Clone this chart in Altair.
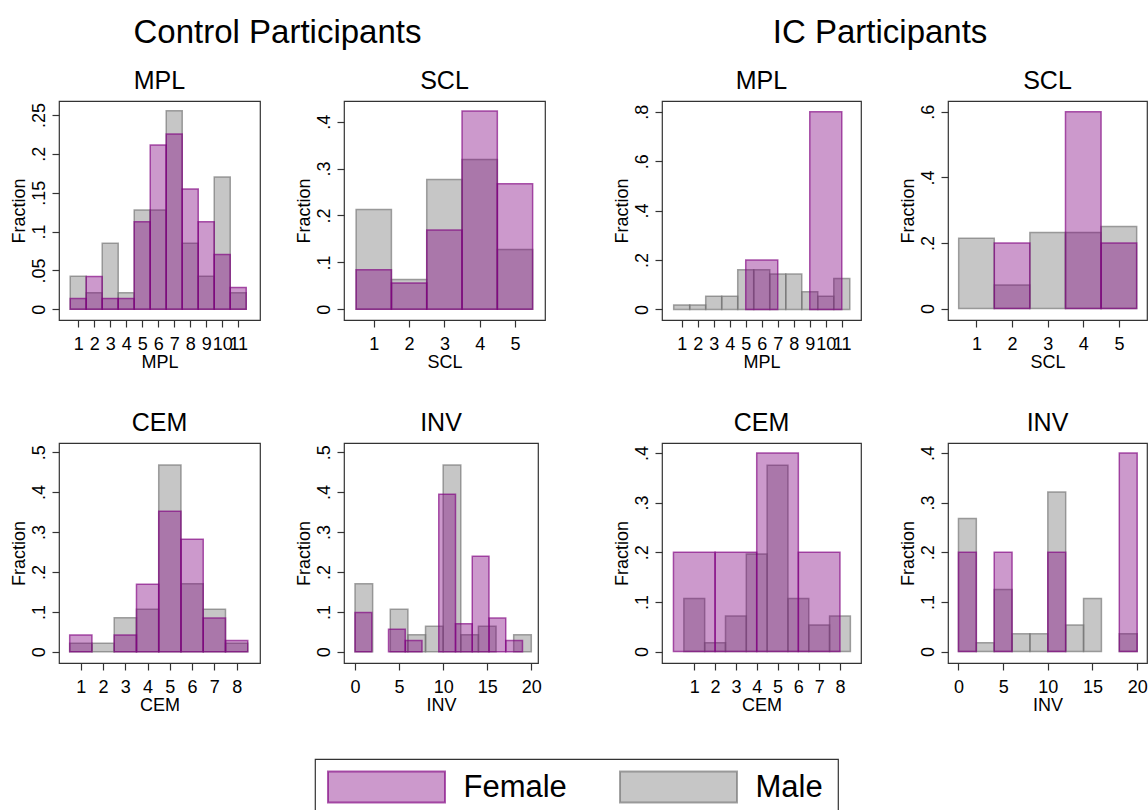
import altair as alt
import pandas as pd

FONT = "Liberation Sans"

sexes = ["Female", "Male"]
sex_colors = ["#800080", "#717171"]

# ---------------- Control participants ----------------
ctrl_mpl_edges = [0.5, 1.5, 2.5, 3.5, 4.5, 5.5, 6.5, 7.5, 8.5, 9.5, 10.5]
ctrl_mpl_female = [0.0141, 0.0423, 0.0141, 0.0141, 0.1127, 0.2113, 0.2254, 0.1549, 0.1127, 0.0704, 0.0282]
ctrl_mpl_male = [0.0426, 0.0213, 0.0851, 0.0213, 0.1277, 0.1277, 0.2553, 0.0851, 0.0426, 0.1702, 0.0213]

ctrl_scl_edges = [0.5, 1.5, 2.5, 3.5, 4.5]
ctrl_scl_female = [0.0845, 0.0563, 0.1690, 0.4225, 0.2676]
ctrl_scl_male = [0.2128, 0.0638, 0.2766, 0.3191, 0.1277]

ctrl_cem_edges = [0.5, 1.5, 2.5, 3.5, 4.5, 5.5, 6.5, 7.5]
ctrl_cem_female = [0.0423, 0.0, 0.0423, 0.1690, 0.3521, 0.2817, 0.0845, 0.0282]
ctrl_cem_male = [0.0213, 0.0213, 0.0851, 0.1064, 0.4681, 0.1702, 0.1064, 0.0213]

ctrl_inv_female_edges = [0.0, 1.9, 3.8, 5.7, 7.6, 9.5, 11.4, 13.3, 15.2, 17.1]
ctrl_inv_female = [0.0986, 0.0, 0.0563, 0.0282, 0.0, 0.3944, 0.0704, 0.2394, 0.0845, 0.0282]
ctrl_inv_male_edges = [0, 2, 4, 6, 8, 10, 12, 14, 16, 18]
ctrl_inv_male = [0.1702, 0.0, 0.1064, 0.0426, 0.0638, 0.4681, 0.0426, 0.0638, 0.0, 0.0426]

# ---------------- IC participants ----------------
ic_mpl_male_edges = [0.5, 1.5, 2.5, 3.5, 4.5, 5.5, 6.5, 7.5, 8.5, 9.5, 10.5]
ic_mpl_male = [0.0179, 0.0179, 0.0536, 0.0536, 0.1607, 0.1607, 0.1429, 0.1429, 0.0714, 0.0536, 0.1250]
ic_mpl_female_edges = [5, 7, 9]
ic_mpl_female = [0.2, 0.0, 0.8]

ic_scl_edges = [0.5, 1.5, 2.5, 3.5, 4.5]
ic_scl_female = [0.0, 0.2, 0.0, 0.6, 0.2]
ic_scl_male = [0.2143, 0.0714, 0.2321, 0.2321, 0.2500]

ic_cem_male_edges = [0.5, 1.5, 2.5, 3.5, 4.5, 5.5, 6.5, 7.5]
ic_cem_male = [0.1071, 0.0179, 0.0714, 0.1964, 0.3750, 0.1071, 0.0536, 0.0714]
ic_cem_female_edges = [0, 2, 4, 6]
ic_cem_female = [0.2, 0.2, 0.4, 0.2]

ic_inv_edges = [0, 2, 4, 6, 8, 10, 12, 14, 16, 18]
ic_inv_female = [0.2, 0.0, 0.2, 0.0, 0.0, 0.2, 0.0, 0.0, 0.0, 0.4]
ic_inv_male = [0.2679, 0.0179, 0.1250, 0.0357, 0.0357, 0.3214, 0.0536, 0.1071, 0.0, 0.0357]

legend_labels = ["Female", "Male"]

YEXT = 52  # left extent of y axis (ticks + labels + title), used for spacing


def series(edges, width, values, sex):
    return [{"x0": e, "x1": e + width, "frac": v, "sex": sex}
            for e, v in zip(edges, values) if v > 0]


YLAB = "datum.value == 0 ? '0' : replace(format(datum.value, '.2~f'), '0.', '.')"


def panel(title, xlabel, rows, xdomain, xticks, ydomain, yticks, w, h):
    df = pd.DataFrame(rows)
    return alt.Chart(df).mark_rect(
        fillOpacity=0.4, strokeOpacity=0.65, strokeWidth=1.5
    ).encode(
        x=alt.X("x0:Q", scale=alt.Scale(domain=xdomain, nice=False, zero=False),
                axis=alt.Axis(values=xticks, title=xlabel, format="d")),
        x2="x1:Q",
        y=alt.Y("frac:Q", scale=alt.Scale(domain=ydomain, nice=False, zero=False),
                axis=alt.Axis(values=yticks, title="Fraction", labelExpr=YLAB,
                              labelAngle=270)),
        y2=alt.datum(0),
        fill=alt.Fill("sex:N", scale=alt.Scale(domain=sexes, range=sex_colors), legend=None),
        stroke=alt.Stroke("sex:N", scale=alt.Scale(domain=sexes, range=sex_colors), legend=None),
    ).properties(
        width=w, height=h,
        title=alt.TitleParams(title, fontSize=25, font=FONT, fontWeight="normal",
                              color="black", offset=7),
    )


p1 = panel("MPL", "MPL",
           series(ctrl_mpl_edges, 1, ctrl_mpl_male, "Male") + series(ctrl_mpl_edges, 1, ctrl_mpl_female, "Female"),
           [-0.2, 12.36], list(range(1, 12)), [-0.0137, 0.268], [0, 0.05, 0.1, 0.15, 0.2, 0.25], 201, 219)
p2 = panel("SCL", "SCL",
           series(ctrl_scl_edges, 1, ctrl_scl_male, "Male") + series(ctrl_scl_edges, 1, ctrl_scl_female, "Female"),
           [0.157, 5.85], [1, 2, 3, 4, 5], [-0.0227, 0.444], [0, 0.1, 0.2, 0.3, 0.4], 201, 219)
p5 = panel("CEM", "CEM",
           series(ctrl_cem_edges, 1, ctrl_cem_male, "Male") + series(ctrl_cem_edges, 1, ctrl_cem_female, "Female"),
           [0.02, 9.05], list(range(1, 9)), [-0.028, 0.523], [0, 0.1, 0.2, 0.3, 0.4, 0.5], 201, 220)
p6 = panel("INV", "INV",
           series(ctrl_inv_male_edges, 2, ctrl_inv_male, "Male") + series(ctrl_inv_female_edges, 1.9, ctrl_inv_female, "Female"),
           [-1.25, 20.76], [0, 5, 10, 15, 20], [-0.028, 0.523], [0, 0.1, 0.2, 0.3, 0.4, 0.5], 194, 220)

p3 = panel("MPL", "MPL",
           series(ic_mpl_male_edges, 1, ic_mpl_male, "Male") + series(ic_mpl_female_edges, 2, ic_mpl_female, "Female"),
           [-0.23, 12.2], list(range(1, 12)), [-0.043, 0.844], [0, 0.2, 0.4, 0.6, 0.8], 199, 219)
p4 = panel("SCL", "SCL",
           series(ic_scl_edges, 1, ic_scl_male, "Male") + series(ic_scl_edges, 1, ic_scl_female, "Female"),
           [0.2, 5.79], [1, 2, 3, 4, 5], [-0.035, 0.633], [0, 0.2, 0.4, 0.6], 199, 219)
p7 = panel("CEM", "CEM",
           series(ic_cem_male_edges, 1, ic_cem_male, "Male") + series(ic_cem_female_edges, 2, ic_cem_female, "Female"),
           [-0.55, 9.01], list(range(1, 9)), [-0.023, 0.42], [0, 0.1, 0.2, 0.3, 0.4], 199, 220)
p8 = panel("INV", "INV",
           series(ic_inv_edges, 2, ic_inv_male, "Male") + series(ic_inv_edges, 2, ic_inv_female, "Female"),
           [-1.17, 21.1], [0, 5, 10, 15, 20], [-0.023, 0.42], [0, 0.1, 0.2, 0.3, 0.4], 199, 220)


def group_title(text):
    return alt.TitleParams(text, fontSize=33, font=FONT, fontWeight="normal",
                           color="black", anchor="middle", offset=18)


groupA = alt.vconcat(
    alt.hconcat(p1, p2, spacing=85 - YEXT),
    alt.hconcat(p5, p6, spacing=85 - YEXT),
    spacing=38, title=group_title("Control Participants"),
)
groupB = alt.vconcat(
    alt.hconcat(p3, p4, spacing=88 - YEXT),
    alt.hconcat(p7, p8, spacing=88 - YEXT),
    spacing=38, title=group_title("IC Participants"),
)
top = alt.hconcat(groupA, groupB, spacing=118 - YEXT)

# ---------------- legend ----------------
SWATCH = "M-1,-0.265L1,-0.265L1,0.265L-1,0.265Z"
leg_df = pd.DataFrame({"sex": legend_labels})
leg_x = alt.X("sex:N", scale=alt.Scale(type="point", domain=legend_labels, padding=0.3955, align=0.3095),
              axis=None)
leg_sw = alt.Chart(leg_df).mark_point(
    shape=SWATCH, size=13689, filled=True, fillOpacity=0.4, strokeOpacity=0.65, strokeWidth=2, opacity=1
).encode(
    x=leg_x, y=alt.value(28),
    fill=alt.Fill("sex:N", scale=alt.Scale(domain=sexes, range=sex_colors), legend=None),
    stroke=alt.Stroke("sex:N", scale=alt.Scale(domain=sexes, range=sex_colors), legend=None),
)
leg_tx = alt.Chart(leg_df).mark_text(
    align="left", baseline="middle", dx=77, fontSize=31, font=FONT, color="black"
).encode(x=leg_x, y=alt.value(29), text="sex:N")
legend_chart = alt.layer(leg_sw, leg_tx).properties(width=523, height=52)

spacer = alt.Chart(pd.DataFrame({"s": [0]})).mark_point(opacity=0).encode(
    x=alt.value(0), y=alt.value(0)
).properties(width=255, height=52, view=alt.ViewBackground(stroke=None))

legend_row = alt.hconcat(spacer, legend_chart, spacing=0)

chart = alt.vconcat(top, legend_row, spacing=41).properties(
    padding={"left": 61 - YEXT, "top": 17, "right": 0, "bottom": 0}
).configure_view(
    stroke="#333333", strokeWidth=1.2
).configure_axis(
    labelFont=FONT, titleFont=FONT, labelFontSize=18, titleFontSize=18,
    labelColor="black", titleColor="black", titleFontWeight="normal",
    tickSize=7, tickColor="#333333", tickWidth=1.2, domain=False, grid=False,
    labelOverlap=False, labelFlush=False, labelPadding=8, titlePadding=0,
).configure_axisY(
    labelPadding=4, titlePadding=7, minExtent=24, maxExtent=24,
)

chart.save("out.html", embed_options={"renderer": "svg", "actions": False})
